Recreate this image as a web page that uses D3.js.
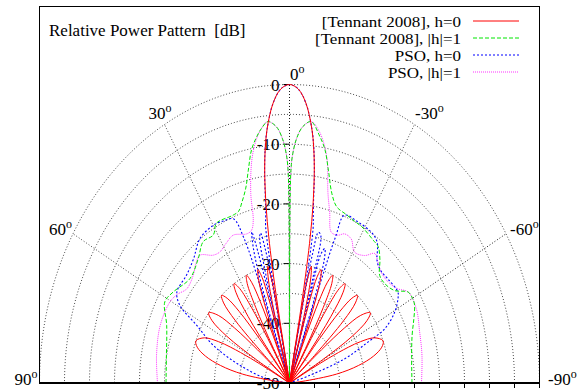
<!DOCTYPE html>
<html>
<head>
<meta charset="utf-8">
<script src="https://cdn.jsdelivr.net/npm/d3@7"></script>
<style>
  body { margin: 0; background: #fff; }
  svg { display: block; }
  text { font-family: "Liberation Serif", "Times New Roman", serif; fill: #000; }
</style>
</head>
<body>
<svg id="chart" width="588" height="392"></svg>
<script>
// Each pattern: [angle in degrees (positive = left of broadside), level in dB]
const tennantH0 = [
  [-90,-60],[-84,-47.5],[-81,-40.5],[-78,-35.9],[-75,-32.6],[-72,-30.6],[-69.3,-30],[-66,-31.4],[-64,-34.2],[-63,-36.8],[-62,-41.2],[-61.5,-45.2],[-60.66,-60],
  [-59.5,-42.3],[-58,-35.2],[-56,-31.3],[-53.9,-30],[-51.5,-31.8],[-50,-35.7],[-49,-41.5],[-48.5,-47.9],[-48.06,-60],
  [-47.3,-43.2],[-46,-34.9],[-44.5,-31.2],[-42.8,-30],[-41.3,-31.1],[-40,-34.4],[-39,-40.4],[-38.1,-60],
  [-37.5,-43.9],[-36.6,-36.1],[-35.2,-31.4],[-33.7,-30],[-32.2,-31.3],[-31,-35.3],[-30.2,-41.4],[-29.49,-60],
  [-28.9,-42.9],[-28.1,-35.7],[-26.9,-31.3],[-25.5,-30],[-24.2,-31.5],[-23.2,-35.2],[-22.5,-41.1],[-21.85,-60],
  [-21.4,-44.2],[-20.7,-36.2],[-19.7,-31.7],[-18.4,-30],[-17.2,-31.5],[-16.4,-35],[-15.8,-40.9],[-15.25,-60],
  [-14.9,-44.5],[-14.4,-36.9],[-13.6,-31.9],[-12.6,-30],[-11.6,-32.6],[-11.1,-38.2],[-10.9,-44],[-10.71,-60],
  [-10.4,-37.9],[-10,-30],[-9.6,-25.1],[-9,-20.1],[-8,-14.4],[-7,-10.3],[-6,-7.2],[-4,-3],[-2,-0.7],[0,0],
  [2,-0.7],[4,-3],[6,-7.2],[7,-10.3],[8,-14.4],[9,-20.1],[9.6,-25.1],[10,-30],[10.4,-37.9],[10.71,-60],
  [10.9,-44],[11.1,-38.2],[11.6,-32.6],[12.6,-30],[13.6,-31.9],[14.4,-36.9],[14.9,-44.5],[15.25,-60],
  [15.8,-40.9],[16.4,-35],[17.2,-31.5],[18.4,-30],[19.7,-31.7],[20.7,-36.2],[21.4,-44.2],[21.85,-60],
  [22.5,-41.1],[23.2,-35.2],[24.2,-31.5],[25.5,-30],[26.9,-31.3],[28.1,-35.7],[28.9,-42.9],[29.49,-60],
  [30.2,-41.4],[31,-35.3],[32.2,-31.3],[33.7,-30],[35.2,-31.4],[36.6,-36.1],[37.5,-43.9],[38.1,-60],
  [39,-40.4],[40,-34.4],[41.3,-31.1],[42.8,-30],[44.5,-31.2],[46,-34.9],[47.3,-43.2],[48.06,-60],
  [48.5,-47.9],[49,-41.5],[50,-35.7],[51.5,-31.8],[53.9,-30],[56,-31.3],[58,-35.2],[59.5,-42.3],[60.66,-60],
  [61.5,-45.2],[62,-41.2],[63,-36.8],[64,-34.2],[66,-31.4],[69.3,-30],[72,-30.6],[75,-32.6],[78,-35.9],[81,-40.5],[84,-47.5],[90,-60]
];

const tennantH1 = [
  [-90,-25.5],[-80,-25.2],[-71.9,-24.2],[-66.6,-22.9],[-62.5,-21.8],[-60.2,-21.6],[-57.3,-21.8],[-53.6,-23.9],[-48.9,-24.7],[-45,-24.5],[-41.3,-22.6],[-37.9,-21.1],
  [-35,-20.8],[-28.9,-20.1],[-25,-19.9],[-22.1,-19.6],[-17.7,-19],[-14.9,-17.1],[-12.3,-13.5],[-10.3,-10.3],[-8.4,-8.3],[-5.6,-6],
  [-3.5,-7],[-2,-9],[-1,-11.5],[-0.5,-14],[-0.2,-22],[0,-60],
  [0.2,-22],[0.5,-14],[1,-11.5],[2,-9],[3.5,-7],[5.6,-6],[7.5,-7],[9,-8.2],[11,-10.2],[13,-13.4],[15,-16.2],[17.5,-18.3],[19.5,-19.5],
  [21.8,-19.7],[23.1,-19.7],[28.6,-19.5],[31.6,-20.9],[36.1,-20.7],[41.2,-22.3],[48.7,-23.5],[56.7,-22.2],[61.4,-21.6],[68.5,-23.6],[80,-25],[90,-25.3]
];

const psoH0 = [
  [-90,-60],[-76,-60],[-72.5,-46],[-69.8,-38.2],[-66.4,-32.9],[-64.5,-28.9],[-60.5,-25.8],[-56.9,-24.1],[-54.9,-23.5],[-48.4,-23.7],[-44.5,-23.8],
  [-40.9,-23.2],[-36.6,-20.6],[-32.9,-19.9],[-26.9,-19.75],[-21.4,-19.8],[-20.6,-24],[-20.2,-32],[-19.9,-60],
  [-19.4,-34],[-18.6,-28.2],[-17.4,-26.4],[-16.2,-27.5],[-15.7,-34],[-15.4,-60],
  [-14.9,-32],[-14.2,-24.5],[-12.9,-24.1],[-12,-28],[-11.6,-34],[-11.3,-60],
  [-10.9,-30],[-10.3,-23.6],[-9.6,-21.5],[-9,-19.3],[-8,-14.2],[-7,-10.2],[-6,-7.2],[-4,-3],[-2,-0.7],[0,0],
  [2,-0.7],[4,-3],[6,-7.2],[7,-10.2],[8,-14.2],[9,-19.3],[9.6,-21.5],[10.3,-23.3],
  [10.9,-30],[11.3,-60],[11.7,-33],[12.2,-27],[13,-24.2],[13.8,-25],[14.6,-31],[15.1,-60],
  [15.6,-33],[16.6,-23.6],[17.8,-26.5],[18.8,-33],[19.3,-60],[19.8,-33],[20.6,-24],[22.2,-20.3],
  [26,-19.8],[30,-19.5],[36.5,-19.9],[42.7,-21.7],[48.7,-22.6],[55.9,-22.8],[59.3,-24.5],[62.5,-29.1],[67.5,-33.5],[73.4,-39.7],[81,-45.4],[86,-55],[90,-60]
];

const psoH1 = [
  [-90,-23.6],[-80,-23.1],[-71.8,-22.6],[-63.9,-21.75],[-57.3,-21.8],[-53.9,-23.2],[-49.4,-24],[-44.6,-23.9],[-41.1,-23.1],[-38.2,-22.4],
  [-35.1,-23.9],[-30.7,-24.5],[-27.1,-22.9],[-23.8,-22.7],[-21.4,-23.4],[-18.3,-23.4],[-15.7,-20.3],[-13.5,-17.1],
  [-11.4,-11.9],[-9.3,-8.75],[-7.5,-7],[-5.8,-6],[-3.5,-7],[-2,-9],[-1,-11.5],[-0.5,-14],[-0.2,-22],[0,-60],
  [0.2,-22],[0.5,-14],[1,-11.5],[2,-9],[3.5,-7],[5.8,-6],[7.5,-7],[9.3,-8.75],[11.4,-11.9],[13.7,-17.3],[14.9,-21.8],[16.5,-23.3],[18.9,-23.6],
  [24.4,-22.8],[28.5,-23.4],[32.4,-24],[35.5,-23.7],[39.9,-22.1],[43.5,-22.7],[46.8,-23.6],[52.5,-24.1],[56.5,-23.1],[60.4,-22.5],[69.5,-22.4],[80,-23],[90,-23.6]
];

const seriesLabels = ["[Tennant 2008], h=0", "[Tennant 2008], |h|=1", "PSO, h=0", "PSO, |h|=1"];
const radialTickLabels = [0, -10, -20, -30, -40, -50];
const angleTickLabels = [90, 60, 30, 0, -30, -60, -90];
const gridLevels = [-45, -40, -35, -30, -25, -20, -15, -10, -5, 0];
const floorDb = -50;

const svg = d3.select("#chart");

// radius (dB above the floor) mapped anisotropically onto the plot box
const x = d3.scaleLinear().domain([-50, 50]).range([39.5, 539.5]);
const y = d3.scaleLinear().domain([0, 63]).range([383, 6.9]);
const rad = d => Math.max(0, d - floorDb);
const toXY = (deg, r) => {
  const a = deg * Math.PI / 180;
  return [x(-r * Math.sin(a)), y(r * Math.cos(a))];
};

svg.append("defs").append("clipPath").attr("id", "plotArea")
  .append("rect").attr("x", 39.5).attr("y", 6.5).attr("width", 500).attr("height", 376.5);

// polar grid: level ellipses and angle spokes
const grid = svg.append("g").attr("fill", "none").attr("stroke", "#333")
  .attr("stroke-width", 0.9).attr("stroke-dasharray", "1,2");
const arcLine = d3.line();
gridLevels.forEach(lv => {
  const r = rad(lv);
  const pts = d3.range(-90, 90.5, 1).map(a => toXY(a, r));
  grid.append("path").attr("d", arcLine(pts));
});
angleTickLabels.filter(a => Math.abs(a) !== 90).forEach(a => {
  const [x2, y2] = toXY(a, 50);
  grid.append("line").attr("x1", x(0)).attr("y1", y(0)).attr("x2", x2).attr("y2", y2)
    .attr("stroke", a === -60 || a === 0 ? "#000" : "#333");
});

// axis ticks
const axes = svg.append("g").attr("stroke", "#000").attr("stroke-width", 1);
radialTickLabels.forEach(v => {
  const yy = y(rad(v));
  axes.append("line").attr("x1", x(0) - 6).attr("x2", x(0)).attr("y1", yy).attr("y2", yy);
  svg.append("text").attr("x", x(0) - 10).attr("y", yy + 6).attr("text-anchor", "end")
    .attr("font-size", 17).text(v);
});
d3.range(0, 50.1, 5).forEach(v => {
  axes.append("line").attr("x1", x(v)).attr("x2", x(v)).attr("y1", 383).attr("y2", 388);
});

// pattern curves
const styles = [
  { data: tennantH0, color: "#ff0000", dash: null, width: 1 },
  { data: tennantH1, color: "#00e600", dash: "4,2", width: 1 },
  { data: psoH0, color: "#0000ff", dash: "2,2", width: 1.1 },
  { data: psoH1, color: "#ff33ff", dash: "1,1", width: 1 }
];
const curve = d3.line().curve(d3.curveCatmullRom.alpha(0.5));
const plot = svg.append("g").attr("clip-path", "url(#plotArea)");
styles.slice().reverse().forEach(s => {
  plot.append("path")
    .attr("d", curve(s.data.map(([a, d]) => toXY(a, rad(d)))))
    .attr("fill", "none").attr("stroke", s.color).attr("stroke-width", s.width)
    .attr("stroke-dasharray", s.dash);
});

// frame
svg.append("rect").attr("x", 39.5).attr("y", 6.5).attr("width", 500).attr("height", 376.5)
  .attr("fill", "none").attr("stroke", "#000").attr("stroke-width", 1);
svg.append("line").attr("x1", 39).attr("x2", 540).attr("y1", 383).attr("y2", 383)
  .attr("stroke", "#000").attr("stroke-width", 2);

// angle labels around the outer level
const angleOffsets = { "90": [-2, 2, "end"], "60": [-1, 1, "end"], "30": [-16, -5.5, "start"],
  "0": [0.5, -4.5, "start"], "-30": [0.5, -5.5, "start"], "-60": [4, 1, "start"], "-90": [8.5, 2, "start"] };
angleTickLabels.forEach(a => {
  const [px, py] = toXY(a, 50);
  const [dx, dy, anchor] = angleOffsets[String(a)];
  const t = svg.append("text").attr("x", px + dx).attr("y", py + dy).attr("text-anchor", anchor)
    .attr("font-size", 17);
  t.append("tspan").text(a);
  t.append("tspan").attr("font-size", 12).attr("dy", -7).text("o");
});

// title
svg.append("text").attr("x", 49).attr("y", 36).attr("font-size", 17)
  .style("white-space", "pre").text("Relative Power Pattern  [dB]");

// legend: rows are tight, so the glyphs are a little shorter and widened to full length
const legend = svg.append("g");
seriesLabels.forEach((name, i) => {
  const yy = 21 + i * 17;
  const t = legend.append("text").attr("x", 461).attr("y", yy + 5.5).attr("text-anchor", "end")
    .attr("font-size", 17).text(name);
  const fullWidth = t.node().getComputedTextLength();
  t.attr("font-size", 15.2).attr("textLength", fullWidth).attr("lengthAdjust", "spacingAndGlyphs");
  legend.append("line").attr("x1", 473).attr("x2", 519).attr("y1", yy).attr("y2", yy)
    .attr("stroke", styles[i].color).attr("stroke-width", styles[i].width)
    .attr("stroke-dasharray", styles[i].dash);
});
</script>
</body>
</html>
